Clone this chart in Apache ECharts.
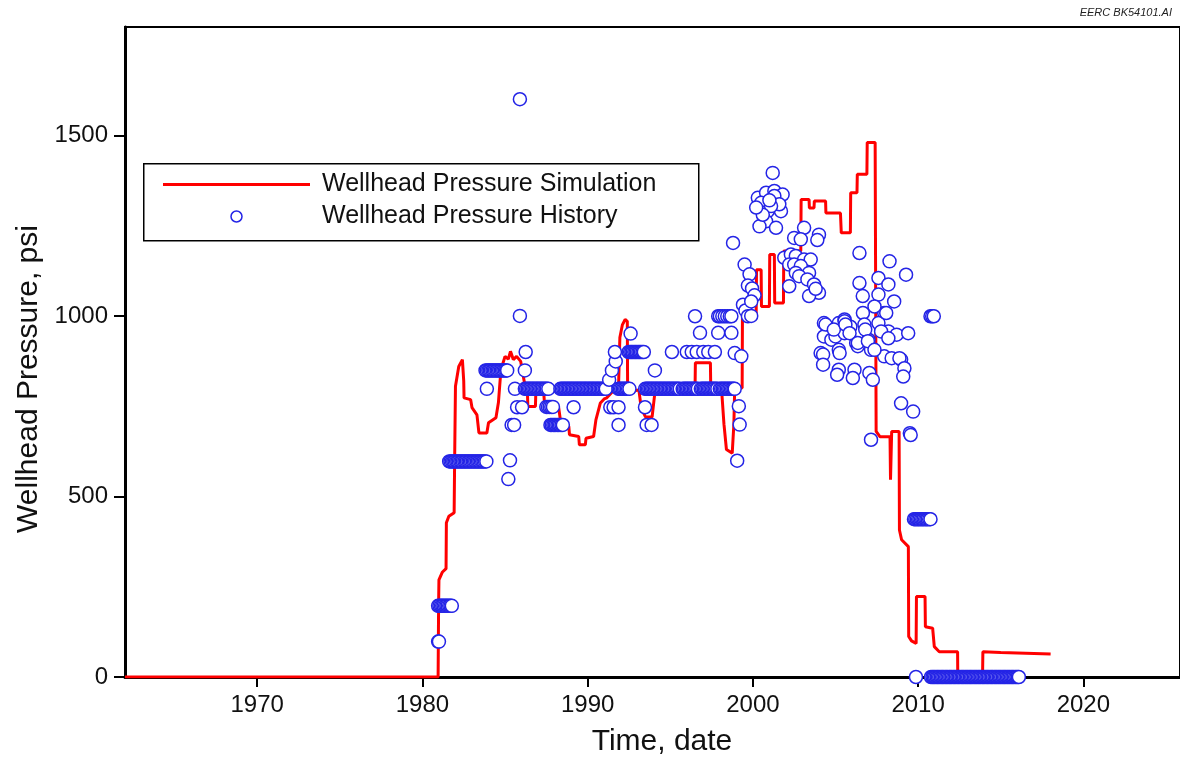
<!DOCTYPE html>
<html>
<head>
<meta charset="utf-8">
<script src="https://cdn.jsdelivr.net/npm/echarts@6/dist/echarts.min.js"></script>
<style>
  html, body { margin: 0; padding: 0; background: #fff; }
  #chart { width: 1180px; height: 759px; }
</style>
</head>
<body>
<div id="chart"></div>
<script>
// Axis ticks (years, psi)
const yearTicks = [1970, 1980, 1990, 2000, 2010, 2020];
const psiTicks = [0, 500, 1000, 1500];

// Simulated wellhead pressure: [decimal year, psi]
const simulation = [
  [1962.0, 0], [1980.95, 0], [1980.98, 200], [1981.0, 269], [1981.2, 290], [1981.43, 300],
  [1981.45, 427], [1981.6, 445], [1981.92, 455], [1981.95, 600], [1982.0, 805], [1982.2, 860],
  [1982.42, 879], [1982.5, 820], [1982.52, 773], [1982.92, 768], [1983.0, 746], [1983.3, 726],
  [1983.42, 676], [1983.9, 676], [1984.0, 704], [1984.45, 718], [1984.6, 760], [1984.75, 850],
  [1985.0, 888], [1985.2, 880], [1985.33, 902], [1985.5, 879], [1985.7, 888], [1985.95, 874],
  [1986.0, 860], [1986.2, 809], [1986.35, 800], [1986.38, 749], [1986.84, 749], [1986.86, 782],
  [1987.35, 782], [1987.4, 750], [1987.55, 745], [1988.25, 745], [1988.35, 712], [1988.45, 694],
  [1988.86, 694], [1988.9, 671], [1989.0, 666], [1989.46, 666], [1989.5, 643], [1989.86, 643],
  [1989.9, 661], [1990.36, 666], [1990.5, 712], [1990.77, 759], [1991.0, 770], [1991.16, 773],
  [1991.5, 790], [1991.87, 805], [1991.95, 940], [1992.1, 975], [1992.27, 990], [1992.4, 985],
  [1992.42, 790], [1993.1, 795], [1993.2, 760], [1993.35, 735], [1993.5, 720], [1993.9, 720],
  [1994.0, 760], [1994.1, 800], [1996.5, 800], [1996.52, 870], [1997.43, 870], [1997.45, 800],
  [1998.1, 800], [1998.25, 700], [1998.4, 630], [1998.75, 620], [1998.85, 700], [1998.9, 800],
  [1999.35, 800], [1999.37, 1008], [2000.2, 1008], [2000.22, 1128], [2000.5, 1128], [2000.52, 1026],
  [2001.0, 1026], [2001.02, 1170], [2001.3, 1170], [2001.32, 1036], [2001.85, 1036], [2001.87, 1180],
  [2002.9, 1180], [2002.92, 1322], [2003.4, 1322], [2003.42, 1299], [2003.7, 1299], [2003.72, 1318],
  [2004.4, 1318], [2004.42, 1285], [2005.3, 1285], [2005.35, 1230], [2005.9, 1230], [2005.92, 1341],
  [2006.3, 1341], [2006.32, 1392], [2006.9, 1392], [2006.92, 1480], [2007.4, 1480], [2007.46, 680],
  [2007.7, 665], [2008.3, 665], [2008.33, 546], [2008.4, 680], [2008.85, 680], [2008.87, 407],
  [2009.0, 380], [2009.41, 361], [2009.43, 112], [2009.6, 100], [2009.88, 93], [2009.9, 223],
  [2010.42, 223], [2010.44, 139], [2010.88, 135], [2010.98, 84], [2011.28, 70], [2012.39, 70],
  [2012.4, 0], [2013.9, 0], [2013.92, 70], [2015.0, 68], [2018.02, 64]
];

// Pair a list of reading dates with the pressure reported on them
function readings(psi, years) { return years.map(function (y) { return [y, psi]; }); }

// Measured wellhead pressure history: [decimal year, psi]
const historyEarly = [].concat(
  [[1980.95, 98], [1981.0, 98]],
  readings(197, [1980.95, 1981.03, 1981.12, 1981.2, 1981.28, 1981.37, 1981.45, 1981.53, 1981.62, 1981.7, 1981.78]),
  readings(597, [1981.62, 1981.7, 1981.79, 1981.87, 1981.95, 1982.04, 1982.12, 1982.2, 1982.29, 1982.37,
    1982.45, 1982.54, 1982.62, 1982.7, 1982.79, 1982.87, 1982.95, 1983.04, 1983.12, 1983.2, 1983.29,
    1983.37, 1983.45, 1983.54, 1983.62, 1983.7, 1983.79, 1983.87]),
  readings(849, [1983.82, 1983.9, 1983.99, 1984.07, 1984.15, 1984.24, 1984.32, 1984.4, 1984.49, 1984.57,
    1984.65, 1984.74, 1984.82, 1984.9, 1984.99, 1985.07, 1985.13]),
  [[1983.9, 798], [1985.2, 548], [1985.3, 600], [1985.4, 698], [1985.55, 698], [1985.6, 798],
   [1985.73, 747], [1985.9, 1000], [1985.9, 1600], [1986.03, 747], [1986.2, 849], [1986.25, 900]]
);

const historyLate80s = [].concat(
  readings(798, [1986.2, 1986.28, 1986.37, 1986.45, 1986.53, 1986.62, 1986.7, 1986.78, 1986.87, 1986.95,
    1987.03, 1987.12, 1987.2, 1987.28, 1987.37, 1987.45, 1987.53, 1987.62]),
  readings(748, [1987.5, 1987.6, 1987.7, 1987.8, 1987.9]),
  readings(698, [1987.75, 1987.83, 1987.92, 1988.0, 1988.08, 1988.17, 1988.25, 1988.33, 1988.42, 1988.5]),
  readings(798, [1988.35, 1988.43, 1988.52, 1988.6, 1988.68, 1988.77, 1988.85, 1988.93, 1989.02, 1989.1,
    1989.18, 1989.27, 1989.35, 1989.43, 1989.52, 1989.6, 1989.68, 1989.77, 1989.85, 1989.93, 1990.02,
    1990.1, 1990.18, 1990.27, 1990.35, 1990.43, 1990.52, 1990.6, 1990.68, 1990.77, 1990.85, 1990.93,
    1991.02, 1991.1]),
  [[1989.15, 747]]
);

const history90s = [].concat(
  [[1991.3, 823], [1991.47, 849], [1991.7, 874], [1991.65, 900], [1991.37, 747], [1991.57, 747],
   [1991.87, 747], [1991.87, 698]],
  readings(798, [1991.87, 1991.95, 1992.03, 1992.12, 1992.2, 1992.28, 1992.37, 1992.45, 1992.53]),
  [[1992.6, 951]],
  readings(900, [1992.48, 1992.57, 1992.65, 1992.73, 1992.82, 1992.9, 1992.98, 1993.07, 1993.15, 1993.23,
    1993.32, 1993.4]),
  [[1993.47, 747], [1993.57, 698], [1993.87, 698], [1994.07, 849]],
  readings(798, [1993.48, 1993.57, 1993.65, 1993.73, 1993.82, 1993.9, 1993.98, 1994.07, 1994.15, 1994.23,
    1994.32, 1994.4, 1994.48, 1994.57, 1994.65, 1994.73, 1994.82, 1994.9, 1994.98, 1995.07, 1995.15,
    1995.23, 1995.32, 1995.4, 1995.48, 1995.57]),
  readings(798, [1995.75, 1995.83, 1995.92, 1996.0, 1996.08, 1996.17, 1996.25, 1996.33, 1996.42, 1996.5,
    1996.58, 1996.67]),
  readings(798, [1996.85, 1996.93, 1997.02, 1997.1, 1997.18, 1997.27, 1997.35, 1997.43, 1997.52, 1997.6,
    1997.68, 1997.77, 1997.85]),
  readings(798, [1998.0, 1998.08, 1998.17, 1998.25, 1998.33, 1998.42, 1998.5, 1998.58, 1998.67, 1998.75,
    1998.83, 1998.9]),
  readings(900, [1995.1, 1996.0, 1996.3, 1996.6, 1997.0, 1997.3, 1997.7]),
  [[1996.5, 999]],
  readings(999, [1997.9, 1998.0, 1998.15, 1998.3, 1998.45, 1998.6, 1998.7]),
  readings(953, [1996.8, 1997.9, 1998.7]),
  [[1998.8, 1202], [1998.9, 897], [1999.3, 888], [1999.05, 599], [1999.2, 699], [1999.15, 750]]
);

const history2000s = [
  [1999.4, 1031], [1999.55, 1015], [1999.7, 999], [1999.9, 1000],
  [1999.5, 1142], [1999.8, 1115], [1999.7, 1084], [1999.95, 1076], [2000.1, 1057], [1999.9, 1040],
  [2001.2, 1396], [2000.3, 1327], [2000.8, 1341], [2001.3, 1346], [2001.8, 1336], [2000.5, 1313],
  [2000.9, 1290], [2001.7, 1290], [2000.8, 1262], [2000.4, 1248], [2001.4, 1244], [2001.3, 1332],
  [2001.6, 1309], [2001.1, 1304], [2000.6, 1280], [2001.0, 1320], [2000.2, 1300],
  [2003.1, 1244], [2002.5, 1216], [2002.9, 1212], [2004.0, 1225], [2003.9, 1210],
  [2001.9, 1161], [2002.3, 1170], [2002.6, 1166], [2003.1, 1156], [2003.5, 1156], [2002.2, 1142],
  [2002.5, 1142], [2002.9, 1138], [2003.4, 1119], [2002.6, 1119], [2002.8, 1110], [2003.3, 1101],
  [2003.7, 1087], [2004.0, 1064], [2003.4, 1055], [2002.2, 1082], [2003.8, 1075],
  [2004.3, 980], [2004.6, 965], [2005.2, 980], [2005.55, 990], [2005.9, 970], [2004.3, 943],
  [2004.75, 934], [2005.0, 943], [2005.55, 952], [2006.25, 925], [2007.0, 934], [2004.1, 897],
  [2005.2, 906], [2006.35, 916], [2007.15, 906], [2008.2, 957], [2008.7, 948], [2009.4, 952],
  [2007.95, 1008], [2007.6, 980], [2007.95, 888], [2008.4, 883], [2008.97, 879], [2006.45, 1174],
  [2008.27, 1151], [2009.27, 1114], [2006.45, 1091], [2006.65, 1055], [2007.6, 1105], [2007.6, 1059],
  [2008.2, 1087], [2008.55, 1040], [2007.36, 1026], [2006.66, 1008], [2008.07, 1008], [2004.4, 976],
  [2004.9, 962], [2005.55, 985], [2005.6, 976], [2006.75, 976], [2006.8, 962], [2005.85, 952],
  [2006.35, 925], [2006.96, 930], [2007.36, 906], [2007.76, 957], [2008.2, 938], [2004.25, 893],
  [2004.25, 865], [2005.25, 897], [2005.2, 851], [2005.1, 837], [2006.15, 851], [2006.05, 828],
  [2007.05, 842], [2007.26, 823], [2008.87, 883], [2009.17, 855], [2009.1, 832], [2008.97, 758],
  [2009.7, 735], [2009.5, 675], [2009.55, 670], [2007.15, 657]
];

const history2010s = [].concat(
  [[2009.87, 0]],
  readings(437, [2009.75, 2009.83, 2009.92, 2010.0, 2010.08, 2010.17, 2010.25, 2010.33, 2010.42, 2010.5,
    2010.58, 2010.67, 2010.75]),
  readings(999, [2010.75, 2010.85, 2010.95]),
  readings(0, [2010.78, 2010.87, 2010.95, 2011.03, 2011.12, 2011.2, 2011.28, 2011.37, 2011.45, 2011.53,
    2011.62, 2011.7, 2011.78, 2011.87, 2011.95, 2012.03, 2012.12, 2012.2, 2012.28, 2012.37, 2012.45,
    2012.53, 2012.62, 2012.7, 2012.78, 2012.87, 2012.95, 2013.03, 2013.12, 2013.2, 2013.28, 2013.37,
    2013.45, 2013.53, 2013.62, 2013.7, 2013.78, 2013.87, 2013.95, 2014.03, 2014.12, 2014.2, 2014.28,
    2014.37, 2014.45, 2014.53, 2014.62, 2014.7, 2014.78, 2014.87, 2014.95, 2015.03, 2015.12, 2015.2,
    2015.28, 2015.37, 2015.45, 2015.53, 2015.62, 2015.7, 2015.78, 2015.87, 2015.95, 2016.03, 2016.1])
);

const history = [].concat(historyEarly, historyLate80s, history90s, history2000s, history2010s);

const FONT = '"Liberation Sans", Arial, Helvetica, sans-serif';
const RED = '#ff0000';
const BLUE = '#2424e6';
const plain = function (v) { return String(v); };

const chart = echarts.init(document.getElementById('chart'), null, { renderer: 'canvas' });

chart.setOption({
  animation: false,
  backgroundColor: '#fff',
  grid: {
    left: 125, top: 27, right: -3, bottom: 82,
    show: true, borderColor: '#000', borderWidth: 2, backgroundColor: 'transparent'
  },
  xAxis: {
    type: 'value', min: 1962, max: 2025.85,
    axisLine: { show: true, onZero: false, lineStyle: { color: '#000', width: 3 } },
    axisTick: { show: true, inside: false, length: 10, customValues: yearTicks, lineStyle: { color: '#000', width: 2 } },
    axisLabel: { customValues: yearTicks, formatter: plain, margin: 16, color: '#111', fontFamily: FONT, fontSize: 24 },
    splitLine: { show: false }
  },
  yAxis: {
    type: 'value', min: 0, max: 1800,
    axisLine: { show: true, lineStyle: { color: '#000', width: 3 } },
    axisTick: { show: true, inside: false, length: 11, customValues: psiTicks, lineStyle: { color: '#000', width: 2 } },
    axisLabel: { customValues: psiTicks, formatter: plain, margin: 17, color: '#111', fontFamily: FONT, fontSize: 24 },
    splitLine: { show: false }
  },
  legend: {
    orient: 'vertical', left: 163, top: 172, padding: 0,
    itemWidth: 147, itemHeight: 11, itemGap: 7,
    textStyle: { fontFamily: FONT, fontSize: 25, color: '#111', lineHeight: 25, padding: [0, 0, 0, 7] },
    data: [
      { name: 'Wellhead Pressure Simulation', icon: 'path://M0,0L147,0L147,3L0,3Z', itemStyle: { color: RED } },
      { name: 'Wellhead Pressure History', icon: 'circle', itemStyle: { color: '#fff', borderColor: BLUE, borderWidth: 1.5 } }
    ]
  },
  graphic: [
    { type: 'rect', left: 143, top: 163, z: 1,
      shape: { width: 555, height: 77 },
      style: { fill: '#fff', stroke: '#000', lineWidth: 1.5 } },
    { type: 'text', right: 8, top: 7, z: 10,
      style: { text: 'EERC BK54101.AI', font: 'italic 11px ' + FONT, fill: '#222' } },
    { type: 'text', x: 662, y: 742, z: 10,
      style: { text: 'Time, date', font: '30px ' + FONT, fill: '#111', align: 'center', verticalAlign: 'middle' } },
    { type: 'text', x: 29, y: 379, rotation: Math.PI / 2, z: 10,
      style: { text: 'Wellhead Pressure, psi', font: '30px ' + FONT, fill: '#111', align: 'center', verticalAlign: 'middle' } }
  ],
  series: [
    {
      name: 'Wellhead Pressure Simulation', type: 'line', data: simulation,
      showSymbol: false, symbol: 'none', clip: true, z: 2,
      lineStyle: { color: RED, width: 3 }, itemStyle: { color: RED }
    },
    {
      name: 'Wellhead Pressure History', type: 'scatter', data: history,
      symbol: 'circle', symbolSize: 13, clip: false, z: 3,
      itemStyle: { color: '#fff', borderColor: BLUE, borderWidth: 1.5, opacity: 1 }
    }
  ]
});
</script>
</body>
</html>
